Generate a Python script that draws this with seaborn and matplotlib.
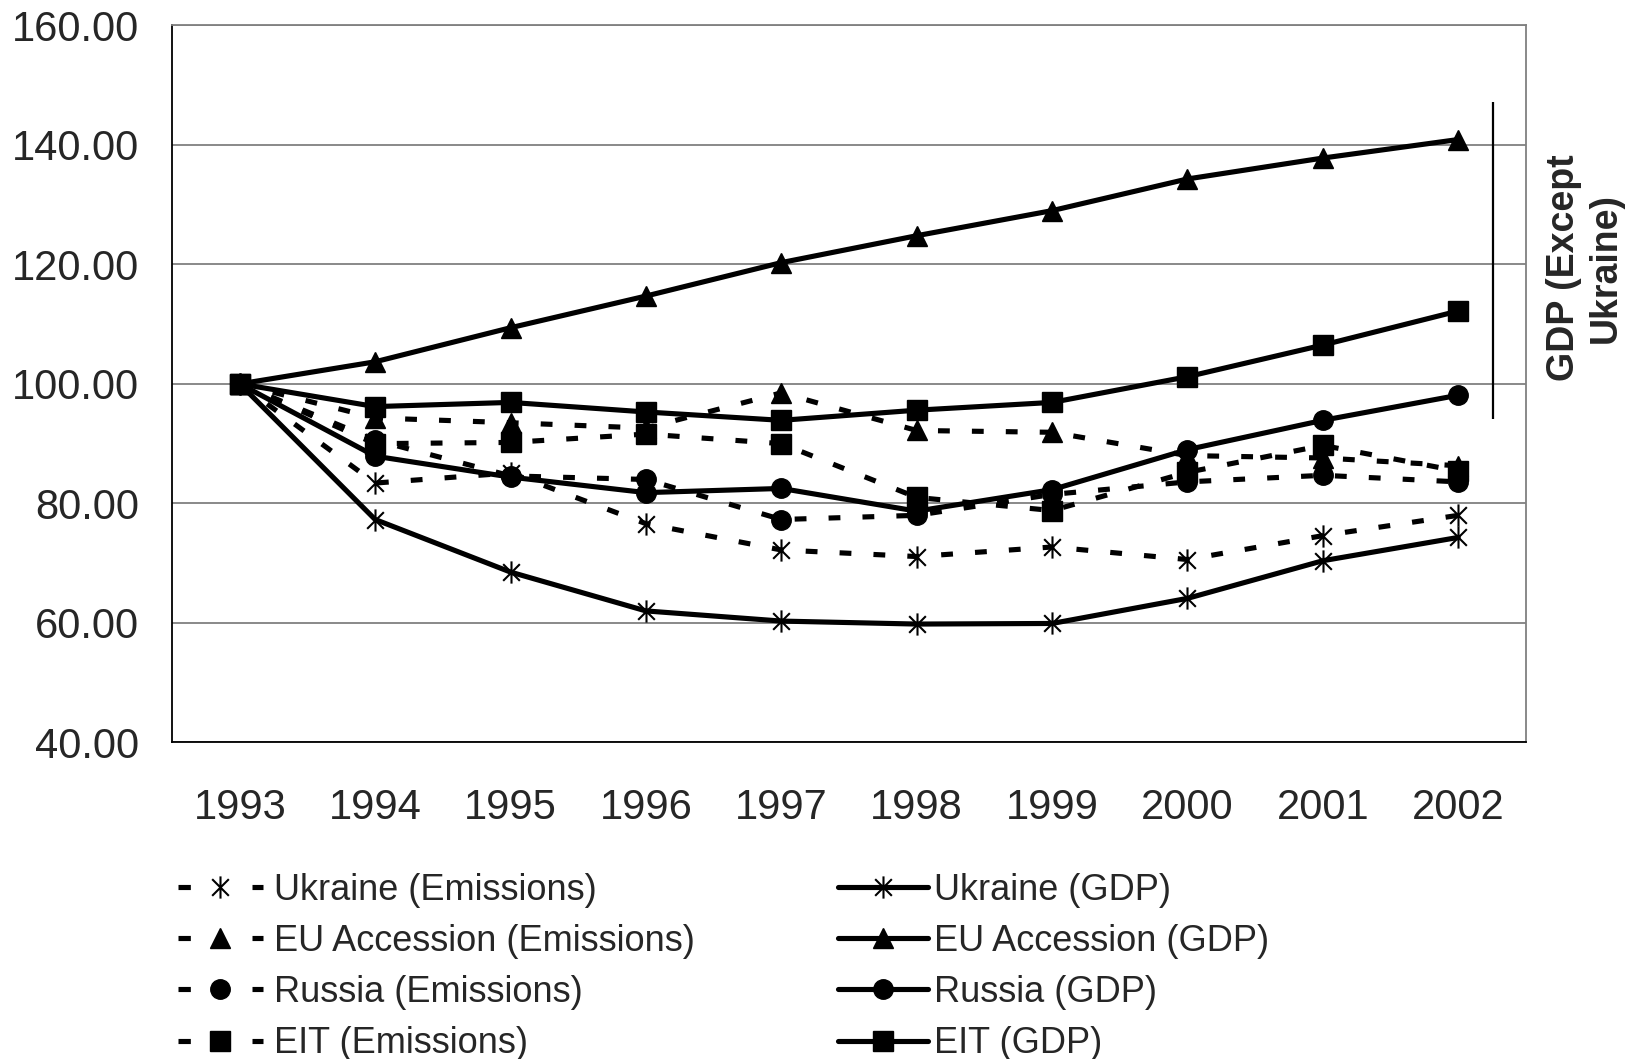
import pandas as pd
import seaborn as sns
import matplotlib.pyplot as plt
from matplotlib.path import Path
from matplotlib.lines import Line2D

years = ['1993', '1994', '1995', '1996', '1997', '1998', '1999', '2000', '2001', '2002']

ukraine_em = [100, 83.4, 85.1, 76.6, 72.2, 71.1, 72.7, 70.6, 74.6, 78.0]
eu_em = [100, 94.3, 93.5, 92.6, 98.5, 92.2, 91.9, 88.0, 87.6, 86.3]
russia_em = [100, 90.6, 84.6, 84.0, 77.3, 78.0, 81.5, 83.6, 84.7, 83.6]
eit_em = [100, 90.0, 90.2, 91.6, 90.0, 81.0, 78.8, 85.2, 89.7, 85.4]

ukraine_gdp = [100, 77.3, 68.5, 62.0, 60.3, 59.8, 59.9, 64.1, 70.4, 74.3]
eu_gdp = [100, 103.7, 109.4, 114.7, 120.3, 124.8, 129.0, 134.3, 137.8, 140.9]
russia_gdp = [100, 87.9, 84.4, 81.8, 82.5, 78.7, 82.3, 89.0, 93.9, 98.1]
eit_gdp = [100, 96.2, 96.9, 95.3, 93.9, 95.6, 96.9, 101.2, 106.5, 112.2]

pos = list(range(len(years)))

# Excel-like asterisk: an X plus a vertical bar
asterisk = Path([(0, -1), (0, 1), (-0.75, -0.75), (0.75, 0.75), (-0.75, 0.75), (0.75, -0.75)],
                [Path.MOVETO, Path.LINETO, Path.MOVETO, Path.LINETO, Path.MOVETO, Path.LINETO])

sns.set_style('white')
plt.rcParams['font.family'] = ['Liberation Sans', 'DejaVu Sans']

fig = plt.figure(figsize=(16.39, 10.59), dpi=100)
ax = fig.add_axes([0.105, 0.299, 0.826, 0.677])

dash = (0, (2.3, 4.3))
lw = 3.7
series = [
    ('Ukraine (Emissions)', ukraine_em, asterisk, dash),
    ('EU Accession (Emissions)', eu_em, '^', dash),
    ('Russia (Emissions)', russia_em, 'o', dash),
    ('EIT (Emissions)', eit_em, 's', dash),
    ('Ukraine (GDP)', ukraine_gdp, asterisk, '-'),
    ('EU Accession (GDP)', eu_gdp, '^', '-'),
    ('Russia (GDP)', russia_gdp, 'o', '-'),
    ('EIT (GDP)', eit_gdp, 's', '-'),
]

handles = []
for i, (name, vals, mk, ls) in enumerate(series):
    is_star = mk is asterisk
    ms = 16 if is_star else 14
    mew = 1.5 if is_star else 1
    sns.lineplot(x=pos, y=vals, ax=ax, color='black', lw=lw, linestyle=ls,
                 marker=mk, markersize=ms, mec='black', mfc='black', mew=mew,
                 zorder=3 + (i >= 4), legend=False)
    hls = (0, (2.4, 12.0)) if ls != '-' else '-'
    handles.append(Line2D([], [], color='black', lw=lw, linestyle=hls, marker=mk,
                          markersize=ms, mec='black', mfc='black', mew=mew, label=name))

ax.set_xlim(-0.5, 9.5)
ax.set_ylim(40, 160)
ax.set_yticks(range(40, 161, 20))
ax.set_yticklabels([f'{v:.2f}' for v in range(40, 161, 20)])
ax.set_xticks(pos)
ax.set_xticklabels(years)
ax.set_xticks([p - 0.5 for p in pos] + [9.5], minor=True)
ax.tick_params(axis='x', which='major', length=0, pad=33, labelsize=30)
ax.tick_params(axis='x', which='minor', length=7, width=1.3, direction='out', color='black')
ax.tick_params(axis='y', length=7, width=1.3, direction='out', color='black', pad=17, labelsize=30)
ax.set_xlabel('')
ax.set_ylabel('')

ax.yaxis.grid(True, color='#808080', lw=1.3)
ax.set_axisbelow(True)
for s in ['left', 'bottom']:
    ax.spines[s].set_color('black')
    ax.spines[s].set_linewidth(1.3)
for s in ['top', 'right']:
    ax.spines[s].set_color('#808080')
    ax.spines[s].set_linewidth(1.3)

# bracket marking the GDP group
ax.vlines(9.26, 94.2, 147.1, color='black', lw=1.6)
fig.text(0.967, 0.747, 'GDP (Except\nUkraine)', rotation=90, fontsize=27, fontweight='bold',
         ha='center', va='center', multialignment='center', linespacing=1.2)

fig.legend(handles=handles[:4], loc='upper left', bbox_to_anchor=(0.1086, 0.176),
           frameon=False, fontsize=26, handlelength=2.35, handletextpad=0.3,
           labelspacing=0.45, borderpad=0, borderaxespad=0)
fig.legend(handles=handles[4:], loc='upper left', bbox_to_anchor=(0.5114, 0.176),
           frameon=False, fontsize=26, handlelength=2.5, handletextpad=0.14,
           labelspacing=0.45, borderpad=0, borderaxespad=0)

fig.savefig('out.png', dpi=100)
